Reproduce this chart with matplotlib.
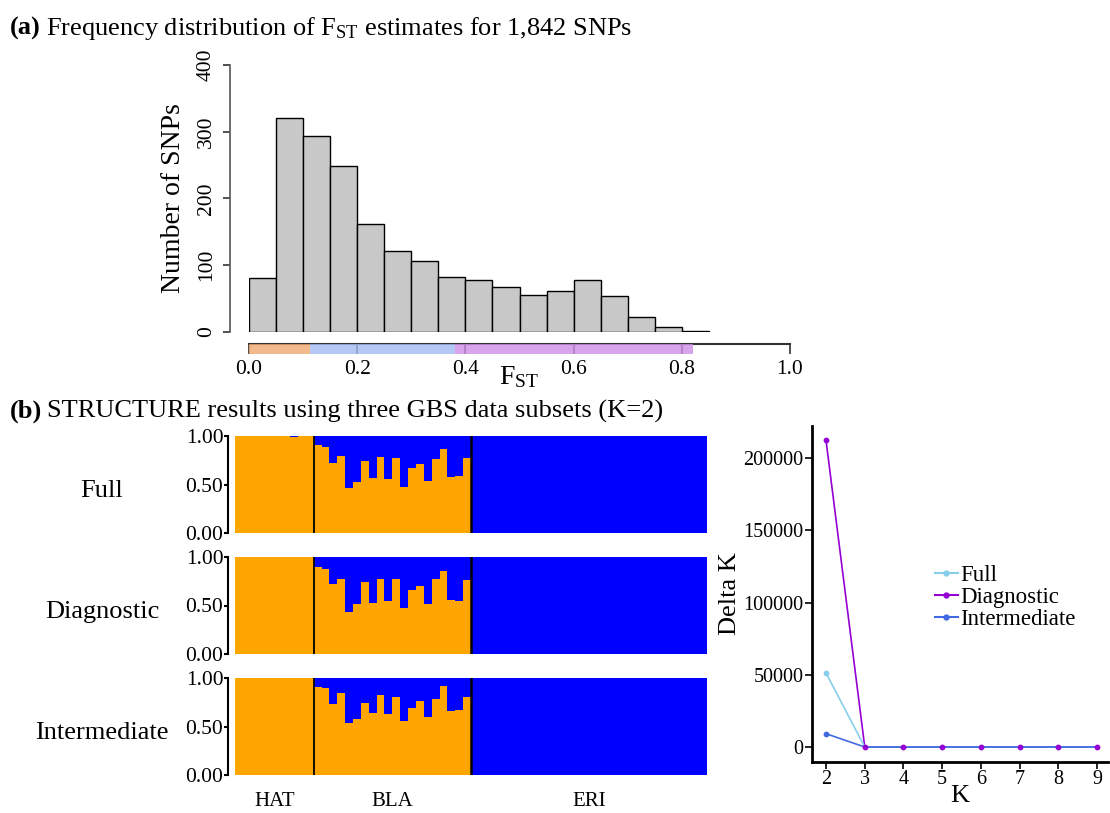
import numpy as np
import matplotlib
matplotlib.use('Agg')
import matplotlib.pyplot as plt
from matplotlib.patches import Rectangle
import matplotlib.transforms as mtransforms

plt.rcParams['font.family'] = ['Liberation Serif', 'DejaVu Serif']
plt.rcParams['mathtext.fontset'] = 'stix'

# ---- data ----
fst_bins = np.arange(0, 0.851, 0.05)
fst_counts = [81, 320, 294, 249, 162, 121, 106, 83, 78, 68, 56, 61, 78, 54, 23, 8, 1]
fst_classes = [(0.0, 0.113), (0.113, 0.38), (0.38, 0.82)]
class_colors = ['#EFA86F', '#A3BBF0', '#CF8EE6']

pops = ['HAT', 'BLA', 'ERI']
pop_sizes = [10, 20, 30]
subsets = ['Full', 'Diagnostic', 'Intermediate']

hat_full = [1, 1, 1, 1, 1, 1, 1, 0.99, 1, 1]
hat_diag = [1] * 10
hat_inter = [1] * 10
bla_full = [0.904, 0.884, 0.720, 0.792, 0.461, 0.526, 0.744, 0.570, 0.788, 0.553,
            0.771, 0.474, 0.669, 0.710, 0.532, 0.761, 0.867, 0.573, 0.587, 0.771]
bla_diag = [0.898, 0.877, 0.720, 0.771, 0.433, 0.519, 0.747, 0.522, 0.771, 0.546,
            0.771, 0.474, 0.659, 0.696, 0.512, 0.771, 0.860, 0.560, 0.546, 0.761]
bla_inter = [0.908, 0.901, 0.734, 0.850, 0.536, 0.577, 0.744, 0.638, 0.823, 0.631,
             0.799, 0.556, 0.689, 0.761, 0.597, 0.782, 0.918, 0.659, 0.666, 0.802]
eri_full = [0] * 30
eri_diag = [0] * 30
eri_inter = [0, 0, 0, 0, 0, 0, 0.003, 0, 0, 0, 0, 0, 0.003, 0, 0, 0, 0, 0.003, 0, 0,
             0.003, 0, 0, 0.003, 0, 0, 0.003, 0, 0, 0]

k_values = [2, 3, 4, 5, 6, 7, 8, 9]
dk_full = [51200, 0, 0, 0, 0, 0, 0, 0]
dk_diag = [212200, 0, 0, 0, 0, 0, 0, 0]
dk_inter = [9200, 0, 0, 0, 0, 0, 0, 0]

W, H = 1110, 813
PT = 0.72  # points per pixel at 100 dpi
fig = plt.figure(figsize=(W / 100, H / 100), dpi=100)

def px_axes(x0, y0, x1, y1):
    return fig.add_axes([x0 / W, 1 - y1 / H, (x1 - x0) / W, (y1 - y0) / H])

# ---- titles ----
def title_line(x, y, bold, rest):
    t1 = fig.text(x / W, 1 - y / H, bold, fontsize=19, fontweight='bold', va='center')
    fig.canvas.draw()
    bb = t1.get_window_extent()
    fig.text(bb.x1 / W + 5 / W, 1 - y / H, rest, fontsize=19, va='center')

title_line(10, 28, '(a)', r'Frequency distribution of $\mathregular{F_{ST}}$ estimates for 1,842 SNPs')
title_line(10, 411, '(b)', 'STRUCTURE results using three GBS data subsets (K=2)')

# ---- histogram ----
ax = px_axes(249, 65, 790, 332)
ax.bar(fst_bins[:-1], fst_counts, width=0.05, align='edge', color='#C8C8C8',
       edgecolor='black', linewidth=1)
ax.set_xlim(0, 1)
ax.set_ylim(0, 400)
for s in ['top', 'right']:
    ax.spines[s].set_visible(False)
ax.spines['left'].set_position(('outward', 19 * PT))
ax.spines['left'].set_bounds(0, 400)
ax.spines['bottom'].set_position(('outward', 12 * PT))
ax.spines['bottom'].set_bounds(0, 1)
ax.spines['left'].set_color('#555555')
ax.spines['bottom'].set_color('#333333')
ax.spines['left'].set_linewidth(1.2)
ax.spines['bottom'].set_linewidth(1.5)
ax.set_yticks([0, 100, 200, 300, 400])
ax.set_yticklabels(['0', '100', '200', '300', '400'], rotation=90, va='center')
ax.set_xticks([0, 0.2, 0.4, 0.6, 0.8, 1.0])
ax.set_xticklabels(['0.0', '0.2', '0.4', '0.6', '0.8', '1.0'])
ax.tick_params(axis='both', labelsize=15.5, length=7 * PT, width=1.2, pad=5,
               colors='#333333', labelcolor='black')
ax.tick_params(axis='x', length=10 * PT, pad=4)
ax.set_ylabel('Number of SNPs', fontsize=20, labelpad=8)
ax.set_xlabel(r'$\mathregular{F_{ST}}$', fontsize=20, labelpad=-10)
trans = mtransforms.blended_transform_factory(ax.transData, ax.transAxes)
for (a, b), c in zip(fst_classes, class_colors):
    ax.add_patch(Rectangle((a, -0.083), b - a, 0.038, transform=trans, facecolor=c,
                           edgecolor='none', alpha=0.8, clip_on=False, zorder=5))

# ---- structure plots ----
fills = {
    'Full': hat_full + bla_full + eri_full,
    'Diagnostic': hat_diag + bla_diag + eri_diag,
    'Intermediate': hat_inter + bla_inter + eri_inter,
}
tops = [436, 557, 678]
n_ind = sum(pop_sizes)
bounds = np.cumsum(pop_sizes)
for name, top in zip(subsets, tops):
    a = px_axes(235, top, 707, top + 97)
    q = np.array(fills[name])
    idx = np.arange(n_ind)
    a.bar(idx, q, width=1, align='edge', color='#FFA500', linewidth=0)
    a.bar(idx, 1 - q, bottom=q, width=1, align='edge', color='#0000FF', linewidth=0)
    for b in bounds[:-1]:
        a.axvline(b, color='black', lw=1.3 if b == bounds[0] else 1.8)
    a.set_xlim(0, n_ind)
    a.set_ylim(0, 1)
    for s in ['top', 'right', 'bottom']:
        a.spines[s].set_visible(False)
    a.spines['left'].set_position(('outward', 7 * PT))
    a.spines['left'].set_linewidth(1.5)
    a.set_xticks([])
    a.set_yticks([0, 0.5, 1])
    a.set_yticklabels(['0.00', '0.50', '1.00'])
    a.tick_params(axis='y', labelsize=15.5, length=4 * PT, width=1.5, pad=0.5)
    fig.text(102 / W, 1 - (top + 55) / H, name, fontsize=19, ha='center', va='center')
    if name == 'Intermediate':
        centers = bounds - np.array(pop_sizes) / 2
        for p, c in zip(pops, centers):
            a.text(c, -0.27, p, fontsize=15, ha='center', va='center',
                   transform=mtransforms.blended_transform_factory(a.transData, a.transAxes))

# ---- Delta K ----
ak = px_axes(812, 426, 1108, 762)
ak.plot(k_values, dk_diag, color='#9400D3', lw=1.2, zorder=2)
ak.plot(k_values, dk_full, color='#87CEEB', lw=1.2, zorder=2)
ak.plot(k_values, dk_inter, color='#4169E1', lw=1.2, zorder=2)
ak.scatter(k_values[:1], dk_full[:1], color='#87CEEB', s=10, zorder=3)
ak.scatter(k_values[:1], dk_inter[:1], color='#4169E1', s=10, zorder=3)
ak.scatter(k_values, dk_diag, color='#9400D3', s=10, zorder=4)
ak.plot([], [], color='#87CEEB', marker='o', ms=3.5, label='Full')
ak.plot([], [], color='#9400D3', marker='o', ms=3.5, label='Diagnostic')
ak.plot([], [], color='#4169E1', marker='o', ms=3.5, label='Intermediate')
ak.set_xlim(1.638, 9.28)
ak.set_ylim(-10380, 222145)
for s in ['top', 'right']:
    ak.spines[s].set_visible(False)
for s in ['left', 'bottom']:
    ak.spines[s].set_linewidth(2)
ak.set_xticks(k_values)
ak.set_yticks([0, 50000, 100000, 150000, 200000])
ak.set_yticklabels(['0', '50000', '100000', '150000', '200000'])
ak.tick_params(axis='both', labelsize=14.5, length=5, width=1.2, pad=1)
ak.set_xlabel('K', fontsize=19, labelpad=-3)
ak.set_ylabel('Delta K', fontsize=19, labelpad=2)
fig.legend(loc='upper left', bbox_to_anchor=(935 / W, 1 - 565 / H), frameon=False,
           fontsize=16.5, handlelength=1.0, handletextpad=0.1, labelspacing=0.05,
           borderpad=0, borderaxespad=0)

fig.savefig('out.png', dpi=100)
